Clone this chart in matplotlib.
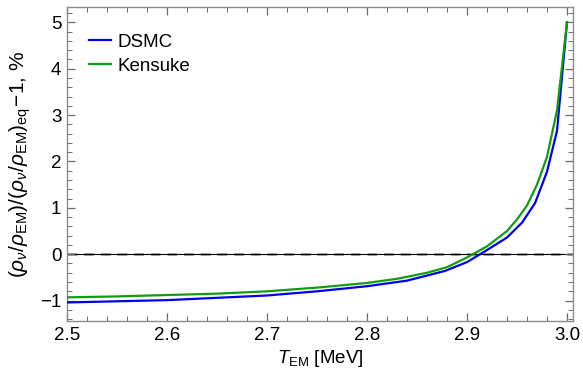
import matplotlib
matplotlib.use('Agg')
import matplotlib.pyplot as plt
from matplotlib.ticker import MultipleLocator

plt.rcParams['font.family'] = ['Liberation Sans', 'DejaVu Sans']
plt.rcParams['mathtext.fontset'] = 'custom'
plt.rcParams['mathtext.rm'] = 'Liberation Sans'
plt.rcParams['mathtext.it'] = 'Liberation Sans:italic'
plt.rcParams['mathtext.bf'] = 'Liberation Sans:bold'

# DSMC result (coarse sampling, piecewise)
t_dsmc = [2.5, 2.6, 2.7, 2.75, 2.8, 2.84, 2.878, 2.9, 2.92, 2.94, 2.955, 2.968, 2.98, 2.99, 3.0]
v_dsmc = [-1.04, -0.99, -0.89, -0.80, -0.69, -0.57, -0.36, -0.17, 0.09, 0.36, 0.68, 1.10, 1.78, 2.66, 5.0]

# Kensuke result (smooth)
t_ken = [2.5, 2.55, 2.6, 2.65, 2.7, 2.75, 2.8, 2.83, 2.86, 2.88, 2.9, 2.92, 2.94, 2.95, 2.96,
         2.97, 2.98, 2.99, 3.0]
v_ken = [-0.93, -0.91, -0.88, -0.85, -0.80, -0.72, -0.62, -0.53, -0.40, -0.28, -0.07, 0.17,
         0.50, 0.75, 1.05, 1.50, 2.10, 3.1, 5.0]

fig = plt.figure(figsize=(5.83, 3.78), dpi=100)
ax = fig.add_axes([67 / 583, 57 / 378, 506 / 583, 314 / 378])

# reference line at zero
ax.axhline(0, color='#9a9a9a', lw=2.0, dashes=(3.5, 2.5), zorder=1)
ax.axhline(0, color='black', lw=0.8, zorder=1.5)

ax.plot(t_dsmc, v_dsmc, color='#0000ee', lw=1.6, label='DSMC', zorder=3)
ax.plot(t_ken, v_ken, color='#109e10', lw=1.6, label='Kensuke', zorder=3)

ax.set_xlim(2.5, 3.006)
ax.set_ylim(-1.44, 5.33)

ax.xaxis.set_minor_locator(MultipleLocator(0.02))
ax.yaxis.set_minor_locator(MultipleLocator(0.2))
ax.set_xticks([2.5, 2.6, 2.7, 2.8, 2.9, 3.0])
ax.set_xticklabels(['2.5', '2.6', '2.7', '2.8', '2.9', '3.0'])
ax.set_yticks([-1, 0, 1, 2, 3, 4, 5])
ax.set_yticklabels(['\u22121', '0', '1', '2', '3', '4', '5'])

for s in ax.spines.values():
    s.set_color('#8c8c8c')
    s.set_linewidth(1.0)
ax.tick_params(which='both', direction='in', top=True, right=True, color='#6a6a6a',
               labelsize=13.5, labelcolor='black')
ax.tick_params(which='major', length=6, width=0.9, pad=4)
ax.tick_params(which='minor', length=3.5, width=0.7)

ax.set_xlabel(r'$T_{\rm EM}$ [MeV]', fontsize=13.5, labelpad=3)
ax.set_ylabel(r'$(\rho_\nu/\rho_{\rm EM})/(\rho_\nu/\rho_{\rm EM})_{\rm eq}\!-\!1$, %',
              fontsize=15, labelpad=5)

ax.legend(loc='upper left', bbox_to_anchor=(0.043, 0.915), frameon=False, fontsize=13.5,
          handlelength=1.2, handletextpad=0.35, labelspacing=0.35, borderpad=0,
          borderaxespad=0)

fig.savefig('out.png', dpi=100)
